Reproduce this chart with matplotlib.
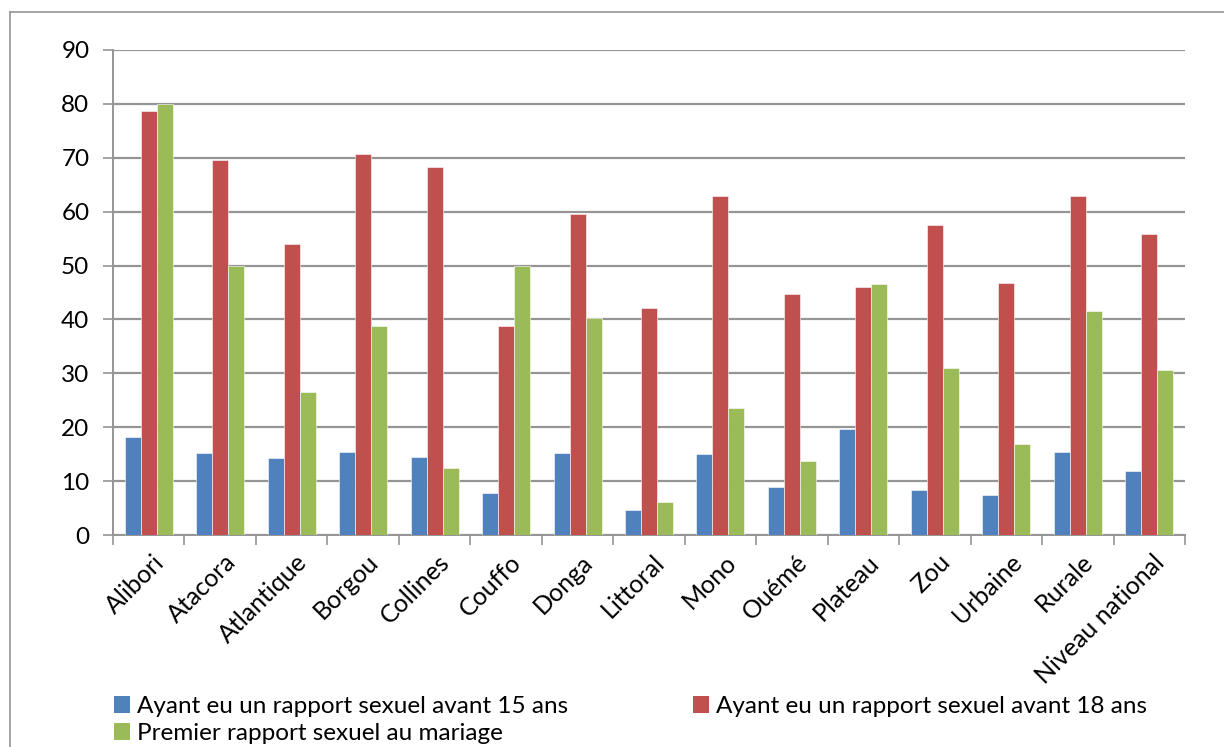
import matplotlib
matplotlib.use("Agg")
import matplotlib.pyplot as plt
from matplotlib.patches import Patch
from matplotlib.lines import Line2D
import numpy as np

plt.rcParams['font.family'] = ['Lato', 'DejaVu Sans']

regions = ['Alibori', 'Atacora', 'Atlantique', 'Borgou', 'Collines', 'Couffo',
           'Donga', 'Littoral', 'Mono', 'Ouémé', 'Plateau', 'Zou', 'Urbaine',
           'Rurale', 'Niveau national']
avant_15 = [18.1, 15.2, 14.3, 15.4, 14.5, 7.8, 15.2, 4.6, 15.0, 9.0, 19.7, 8.4, 7.4, 15.4, 11.9]
avant_18 = [78.7, 69.6, 54.0, 70.7, 68.3, 38.7, 59.6, 42.2, 62.9, 44.7, 46.1, 57.5, 46.8, 63.0, 55.9]
au_mariage = [80.0, 49.9, 26.5, 38.8, 12.5, 49.9, 40.3, 6.1, 23.6, 13.7, 46.6, 31.0, 16.9, 41.6, 30.6]

labels = ['Ayant eu un rapport sexuel avant 15 ans',
          'Ayant eu un rapport sexuel avant 18 ans',
          'Premier rapport sexuel au mariage']
colors = ['#4F81BD', '#C0504D', '#9BBB59']
grey = '#959595'
fs = 17.5

fig = plt.figure(figsize=(12.24, 7.47), dpi=100)
ax = fig.add_axes([113/1224, 1 - 535/747, (1185 - 113)/1224, (535 - 50)/747])

x = np.arange(len(regions))
w = 0.224
for i, (vals, c) in enumerate(zip([avant_15, avant_18, au_mariage], colors)):
    ax.bar(x + (i - 1) * w, vals, w, color=c, edgecolor='white', linewidth=0.4, zorder=3)

ax.set_xlim(-0.5, len(regions) - 0.5)
ax.set_ylim(0, 90)
ax.set_yticks(range(0, 91, 10))
ax.yaxis.grid(True, color=grey, linewidth=1.6, zorder=0)
ax.tick_params(axis='y', length=7, width=1.2, color=grey, pad=10, labelsize=fs)

ax.set_xticks(x + 0.05)
ax.set_xticklabels(regions, rotation=45, ha='right', rotation_mode='anchor', fontsize=18)
ax.tick_params(axis='x', length=0, pad=11)
ax.set_xticks(np.arange(-0.5, len(regions), 1), minor=True)
ax.tick_params(axis='x', which='minor', length=7, width=1.2, color=grey)

for s in ['top', 'right']:
    ax.spines[s].set_visible(False)
for s in ['left', 'bottom']:
    ax.spines[s].set_color(grey)
    ax.spines[s].set_linewidth(1.4)

# chart frame
fig.add_artist(Line2D([10/1224, 1], [1 - 12/747] * 2, color=grey, lw=1.2))
fig.add_artist(Line2D([10/1224] * 2, [0, 1 - 12/747], color=grey, lw=1.2))

h = [Patch(facecolor=c) for c in colors]
leg1 = fig.legend([h[0], h[2]], [labels[0], labels[2]], loc='upper left',
                  bbox_to_anchor=(114/1224, 1 - 696/747), frameon=False, fontsize=fs,
                  handlelength=0.65, handleheight=0.65, handletextpad=0.3, labelspacing=0.25,
                  borderpad=0, borderaxespad=0)
leg2 = fig.legend([h[1]], [labels[1]], loc='upper left',
                  bbox_to_anchor=(693/1224, 1 - 696/747), frameon=False, fontsize=fs,
                  handlelength=0.65, handleheight=0.65, handletextpad=0.3,
                  borderpad=0, borderaxespad=0)

fig.savefig('out.png', dpi=100)
